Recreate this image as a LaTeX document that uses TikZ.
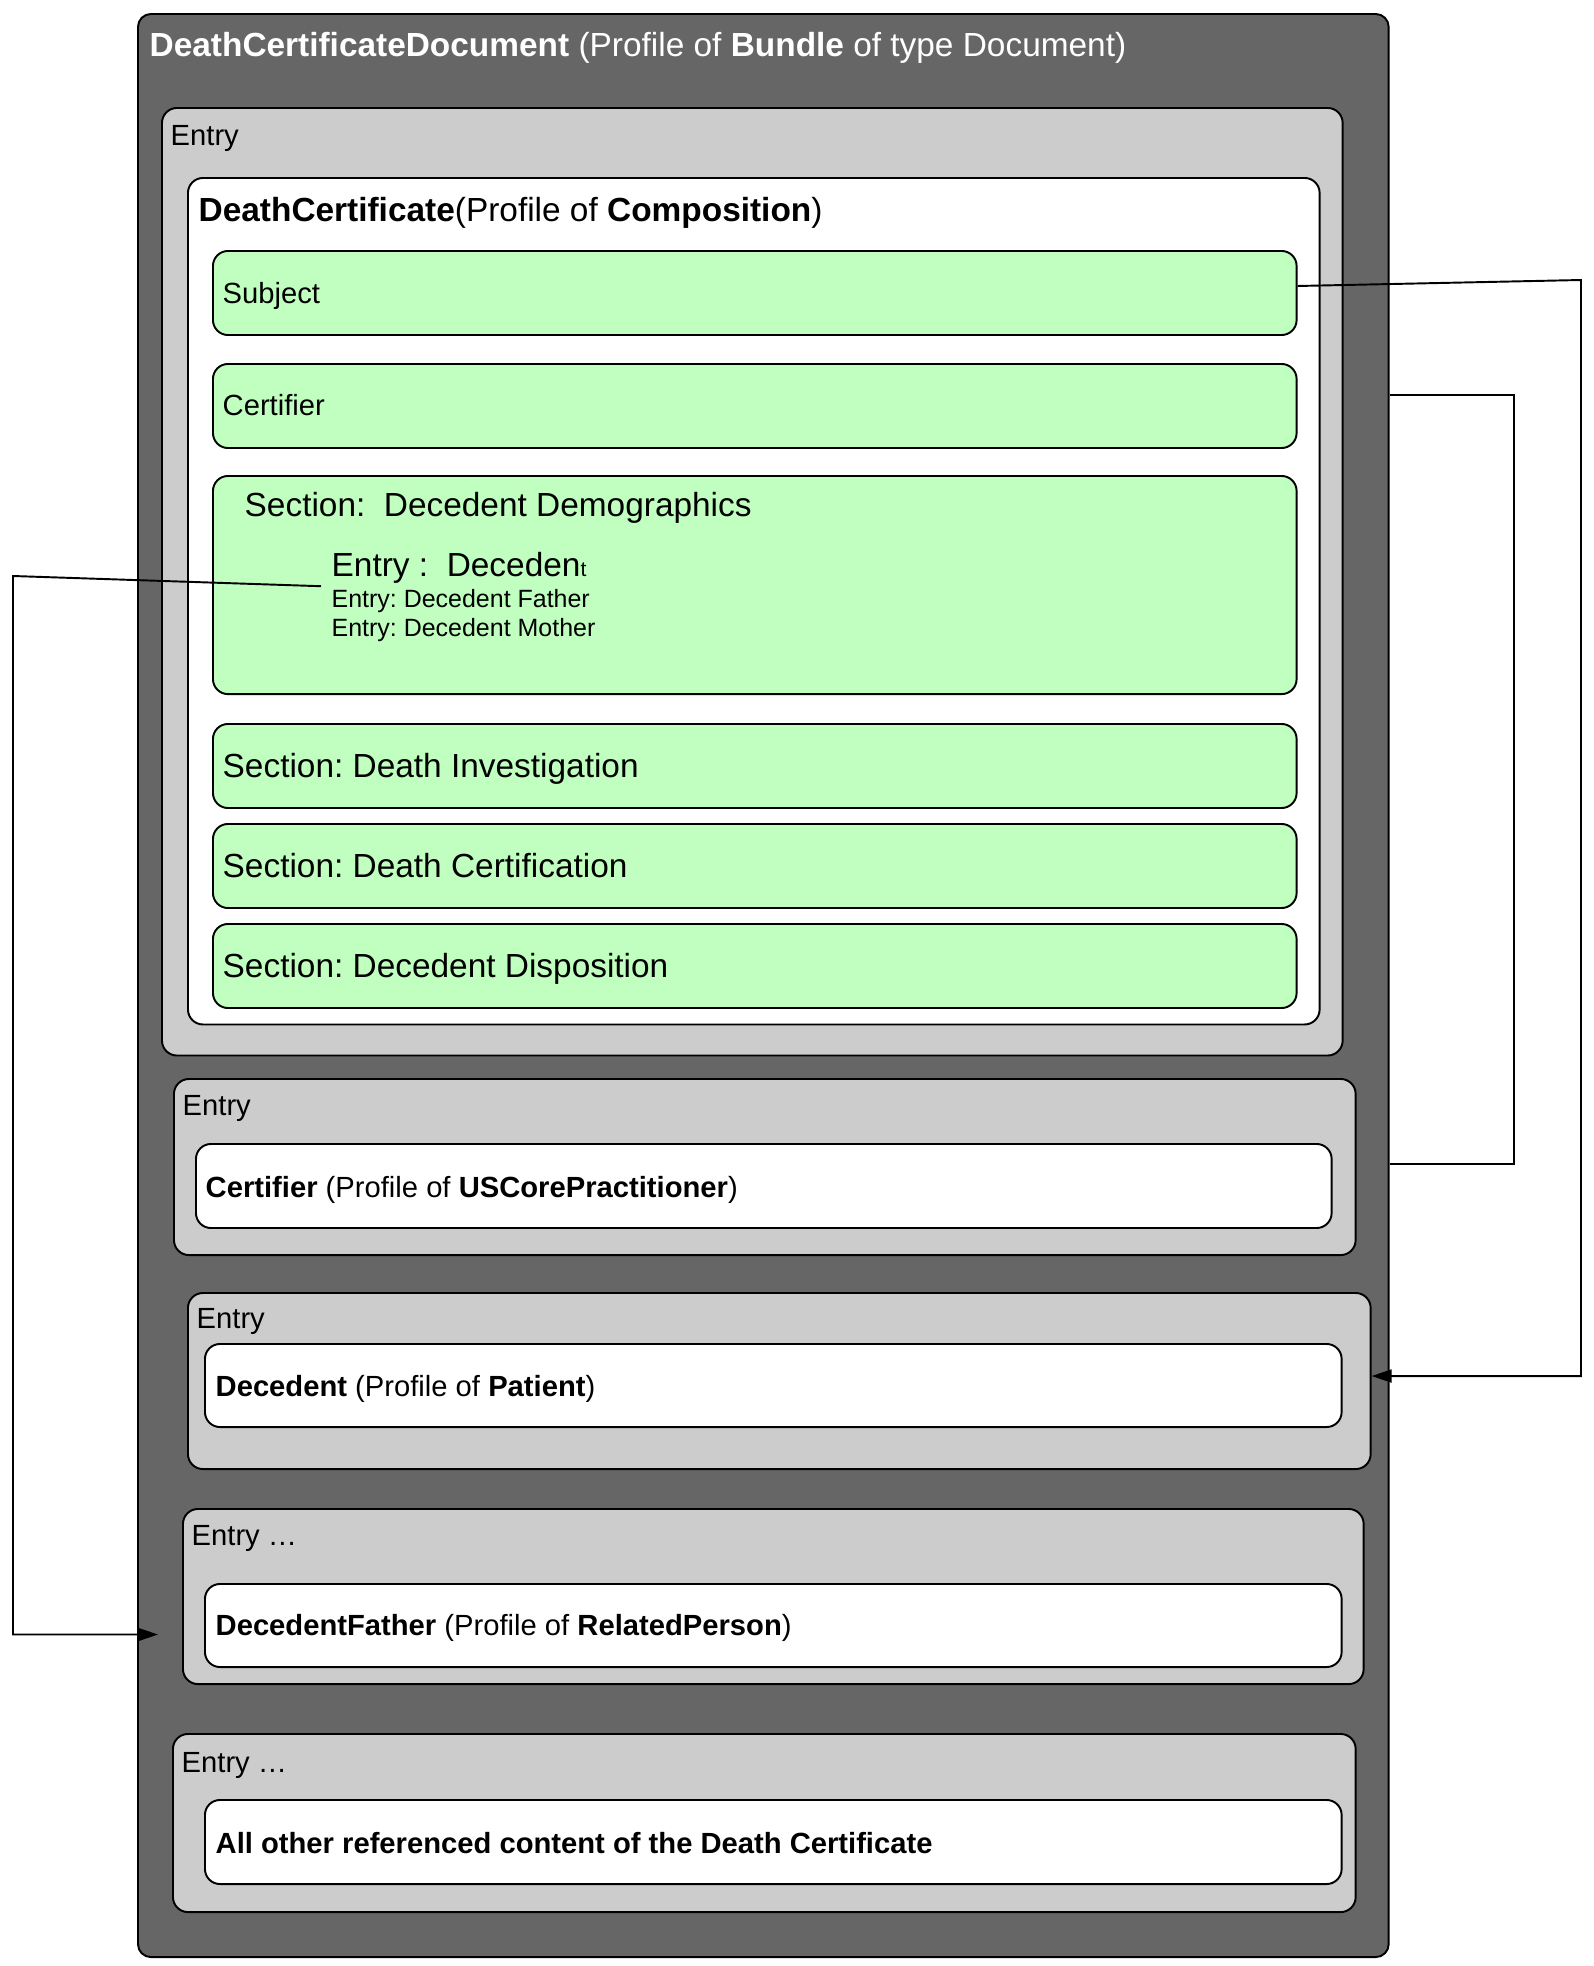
\documentclass[tikz,border=0pt]{standalone}
\usepackage{fontspec}
\setmainfont{Liberation Sans}
\usetikzlibrary{arrows.meta}
\frenchspacing

\definecolor{docgray}{HTML}{666666}
\definecolor{entrygray}{HTML}{CCCCCC}
\definecolor{sectgreen}{HTML}{C0FFC0}

\tikzset{
	plainbox/.style={draw, line width=0.55pt, anchor=north west, inner sep=0pt, rounded corners=0.15cm},
	outerbox/.style={plainbox, fill=docgray, rounded corners=0.13cm},
	entrybox/.style={plainbox, fill=entrygray},
	whitebox/.style={plainbox, fill=white},
	sectbox/.style={plainbox, fill=sectgreen, minimum width=10.83cm, minimum height=0.84cm},
	lbl/.style={anchor=base west, inner sep=0pt, font=\fontsize{8.3}{10}\selectfont},
	biglbl/.style={lbl, font=\fontsize{9.5}{11}\selectfont},
	smalllbl/.style={lbl, font=\fontsize{7.1}{8.5}\selectfont},
	conn/.style={line width=0.55pt},
}

\begin{document}
\begin{tikzpicture}[x=0.01cm, y=0.01cm]
		\useasboundingbox (0,0) rectangle (1593,-1966);
		% bundle
		\node[outerbox, minimum width=12.50cm, minimum height=19.42cm] (docbox) at (137,-13) {};
		\node[biglbl, text=white] (doctitle) at (149,-56) {\textbf{DeathCertificateDocument} (Profile of \textbf{Bundle} of type Document)};
		% composition entry
		\node[entrybox, minimum width=11.80cm, minimum height=9.47cm] (compentry) at (161,-107) {};
		\node[lbl] (compentrylbl) at ([shift={(9,-38)}]compentry.north west) {Entry};
		\node[whitebox, minimum width=11.31cm, minimum height=8.46cm] (comp) at (187,-177) {};
		\node[biglbl] (comptitle) at ([shift={(11,-44)}]comp.north west) {\textbf{DeathCertificate}(Profile of \textbf{Composition})};
		\node[sectbox] (subject) at (212,-250) {};
		\node[lbl] (subjectlbl) at ([shift={(10,-53)}]subject.north west) {Subject};
		\node[sectbox] (certifier) at (212,-363) {};
		\node[lbl] (certifierlbl) at ([shift={(10,-52)}]certifier.north west) {Certifier};
		\node[sectbox, minimum height=2.18cm] (demog) at (212,-475) {};
		\node[biglbl] (demoglbl) at ([shift={(32,-41)}]demog.north west) {Section:~ Decedent Demographics};
		\node[biglbl] (decedenttxt) at ([shift={(119,-101)}]demog.north west) {Entry :~ Deceden{\fontsize{6}{7}\selectfont t}};
		\node[smalllbl] (fathertxt) at ([shift={(119,-132)}]demog.north west) {Entry: Decedent Father};
		\node[smalllbl] (mothertxt) at ([shift={(119,-161)}]demog.north west) {Entry: Decedent Mother};
		\foreach \nm/\ty/\txt in {invest/723/Death Investigation, certif/823/Death Certification, dispos/923/Decedent Disposition}{
			\node[sectbox] (\nm) at (212,-\ty) {};
			\node[biglbl] (\nm lbl) at ([shift={(10,-54)}]\nm.north west) {Section: \txt};
		}
		% referenced entries
		\node[entrybox, minimum width=11.81cm, minimum height=1.76cm] (practentry) at (173,-1078) {};
		\node[lbl] (practentrylbl) at ([shift={(9,-37)}]practentry.north west) {Entry};
		\node[whitebox, minimum width=11.35cm, minimum height=0.84cm] (pract) at (195,-1143) {};
		\node[lbl] (practlbl) at ([shift={(10,-54)}]pract.north west) {\textbf{Certifier} (Profile of \textbf{USCorePractitioner})};
		\node[entrybox, minimum width=11.82cm, minimum height=1.76cm] (decentry) at (187,-1292) {};
		\node[lbl] (decentrylbl) at ([shift={(9,-36)}]decentry.north west) {Entry};
		\node[whitebox, minimum width=11.36cm, minimum height=0.83cm] (decedent) at (204,-1343) {};
		\node[lbl] (decedentlbl) at ([shift={(11,-53)}]decedent.north west) {\textbf{Decedent} (Profile of \textbf{Patient})};
		\node[entrybox, minimum width=11.80cm, minimum height=1.75cm] (fatherentry) at (182,-1508) {};
		\node[lbl] (fatherentrylbl) at ([shift={(9,-37)}]fatherentry.north west) {Entry …};
		\node[whitebox, minimum width=11.36cm, minimum height=0.83cm] (father) at (204,-1583) {};
		\node[lbl] (fatherlbl) at ([shift={(11,-52)}]father.north west) {\textbf{DecedentFather} (Profile of \textbf{RelatedPerson})};
		\node[entrybox, minimum width=11.82cm, minimum height=1.78cm] (otherentry) at (172,-1733) {};
		\node[lbl] (otherentrylbl) at ([shift={(9,-39)}]otherentry.north west) {Entry …};
		\node[whitebox, minimum width=11.36cm, minimum height=0.84cm] (other) at (204,-1799) {};
		\node[lbl] (otherlbl) at ([shift={(11,-54)}]other.north west) {\textbf{All other referenced content of the Death Certificate}};
		% references
		\coordinate (subjturn) at (1581,-280);
		\coordinate (fatherturn) at (13,-576);
		\draw[conn, -{Triangle[length=0.2cm, width=0.13cm]}] ([shift={(0,7)}]subject.east) -- (subjturn) |- ([shift={(0,5)}]decentry.east);
		\draw[conn] ([shift={(0,11)}]docbox.east |- certifier.east) -- ++(124,0) |- ([shift={(0,22)}]docbox.east |- pract.east);
		\draw[conn, -{Triangle[length=0.2cm, width=0.13cm]}] ([shift={(-10,2)}]fathertxt.north west) -- (fatherturn) |- ([shift={(-46,-9)}]father.west);
\end{tikzpicture}
\end{document}
